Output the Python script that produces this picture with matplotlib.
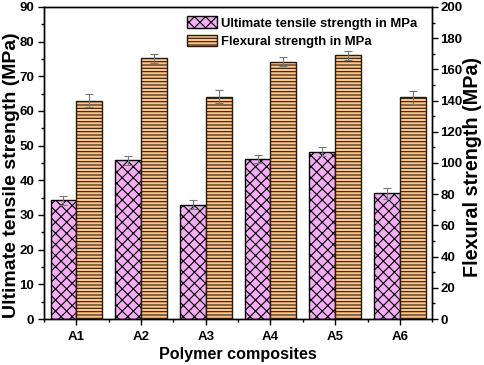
import matplotlib.pyplot as plt
import numpy as np

plt.rcParams['font.family'] = ['Liberation Sans', 'DejaVu Sans']
plt.rcParams['font.weight'] = 'bold'
plt.rcParams['hatch.linewidth'] = 0.8

samples = ["A1", "A2", "A3", "A4", "A5", "A6"]
tensile = [34.2, 45.8, 33.0, 46.1, 48.2, 36.2]
tensile_err = [1.2, 1.3, 1.4, 1.1, 1.3, 1.6]
flexural = [140.0, 167.0, 142.5, 165.0, 169.0, 142.0]
flexural_err = [4.0, 3.0, 4.0, 3.0, 3.0, 4.0]

x = np.arange(len(samples))
w = 0.4

fig = plt.figure(figsize=(4.84, 3.65), dpi=100)
ax = fig.add_axes([0.091, 0.126, 0.802, 0.855])
ax2 = ax.twinx()

b1 = ax.bar(x - w / 2, tensile, w, color="#f5aef5", edgecolor="black",
            hatch="xxx", linewidth=1.0,
            label="Ultimate tensile strength in MPa")
ax.errorbar(x - w / 2, tensile, yerr=tensile_err, fmt="none",
            ecolor="#777777", elinewidth=0.8, capsize=3, capthick=0.8)

b2 = ax2.bar(x + w / 2, flexural, w, color="#ffc48a", edgecolor="#2a1a0a",
             hatch="-----", linewidth=1.0,
             label="Flexural strength in MPa")
ax2.errorbar(x + w / 2, flexural, yerr=flexural_err, fmt="none",
             ecolor="#777777", elinewidth=0.8, capsize=3, capthick=0.8)

ax.set_xlim(-0.5, 5.5)
ax.set_ylim(0, 90)
ax2.set_ylim(0, 200)

ax.set_xticks(x)
ax.set_xticklabels(samples)
ax.set_xticks(np.arange(-0.5, 6, 1), minor=True)
ax.set_yticks(np.arange(0, 91, 10))
ax.set_yticks(np.arange(0, 91, 5), minor=True)
ax2.set_yticks(np.arange(0, 201, 20))
ax2.set_yticks(np.arange(0, 201, 10), minor=True)

for a in (ax, ax2):
    a.tick_params(which="major", direction="out", length=4, width=1,
                  labelsize=9.5)
    a.tick_params(which="minor", direction="out", length=2.2, width=1)
    for s in a.spines.values():
        s.set_linewidth(1.0)
ax.tick_params(axis="x", which="major", pad=4.5)
ax.tick_params(axis="y", which="major", pad=3)
ax2.tick_params(axis="y", which="major", pad=2)

ax.set_xlabel("Polymer composites", fontsize=11.6, fontweight="bold",
              labelpad=3)
ax.set_ylabel("Ultimate tensile strength (MPa)", fontsize=14,
              fontweight="bold")
ax.yaxis.set_label_coords(-0.062, 0.46)
ax2.set_ylabel("Flexural strength (MPa)", fontsize=14.2, fontweight="bold")
ax2.yaxis.set_label_coords(1.08, 0.486)

ax2.legend([b1, b2], [b1.get_label(), b2.get_label()], loc="upper left",
           bbox_to_anchor=(0.368, 0.97), frameon=False, fontsize=9.4,
           handlelength=2.3, handleheight=1.0, handletextpad=0.3,
           labelspacing=0.38, borderaxespad=0, borderpad=0)

plt.savefig("out.png", dpi=100)
